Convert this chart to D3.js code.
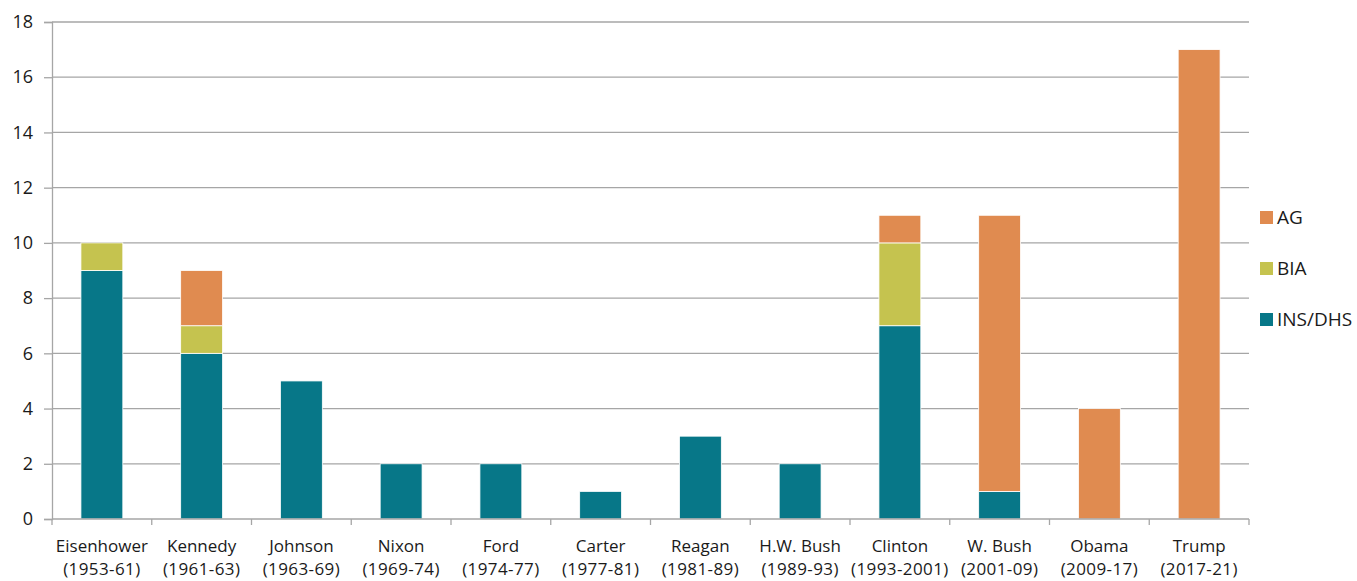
<!DOCTYPE html>
<html>
<head>
<meta charset="utf-8">
<script src="https://cdn.jsdelivr.net/npm/d3@7"></script>
<style>
  body { margin: 0; background: #fff; }
  text { font-family: "Open Sans", "Noto Sans", sans-serif; fill: #1a1a1a; }
</style>
</head>
<body>
<svg width="1357" height="581"></svg>
<script>
var presidents = ["Eisenhower", "Kennedy", "Johnson", "Nixon", "Ford", "Carter", "Reagan", "H.W. Bush", "Clinton", "W. Bush", "Obama", "Trump"];
var terms = ["(1953-61)", "(1961-63)", "(1963-69)", "(1969-74)", "(1974-77)", "(1977-81)", "(1981-89)", "(1989-93)", "(1993-2001)", "(2001-09)", "(2009-17)", "(2017-21)"];
var insDhs = [9, 6, 5, 2, 2, 1, 3, 2, 7, 1, 0, 0];
var bia = [1, 1, 0, 0, 0, 0, 0, 0, 3, 0, 0, 0];
var ag = [0, 2, 0, 0, 0, 0, 0, 0, 1, 10, 4, 17];
var yTicks = [0, 2, 4, 6, 8, 10, 12, 14, 16, 18];

var seriesNames = ["INS/DHS", "BIA", "AG"];
var colors = { "INS/DHS": "#077788", "BIA": "#c5c34f", "AG": "#e08b50" };

var svg = d3.select("svg");
var plotLeft = 52, plotRight = 1249, plotTop = 22, plotBottom = 519;

var rows = presidents.map(function(p, i) {
  return { name: p, "INS/DHS": insDhs[i], "BIA": bia[i], "AG": ag[i] };
});

var x = d3.scaleBand().domain(presidents).range([plotLeft, plotRight]).paddingInner(0.58).paddingOuter(0.29);
var y = d3.scaleLinear().domain([0, 18]).range([plotBottom, plotTop]);

// gridlines
svg.append("g").selectAll("line").data(yTicks.filter(function(d) { return d > 0; }))
  .enter().append("line")
  .attr("x1", plotLeft).attr("x2", plotRight)
  .attr("y1", function(d) { return y(d); }).attr("y2", function(d) { return y(d); })
  .attr("stroke", "#a6a6a6").attr("stroke-width", 1.3);

var stack = d3.stack().keys(seriesNames)(rows);

svg.append("g").selectAll("g").data(stack)
  .enter().append("g")
  .attr("fill", function(d) { return colors[d.key]; })
  .selectAll("rect").data(function(d) { return d.filter(function(s) { return s[1] > s[0]; }); })
  .enter().append("rect")
  .attr("x", function(d) { return x(d.data.name); })
  .attr("width", x.bandwidth())
  .attr("y", function(d) { return y(d[1]); })
  .attr("height", function(d) { return y(d[0]) - y(d[1]); })
  .attr("stroke", "#fff").attr("stroke-width", 0.8);

// y axis
var yAxis = svg.append("g").attr("transform", "translate(" + plotLeft + ",0)")
  .call(d3.axisLeft(y).tickValues(yTicks).tickSize(8).tickPadding(11));
yAxis.select(".domain").attr("stroke", "#a6a6a6").attr("stroke-width", 1.3);
yAxis.selectAll(".tick line").attr("stroke", "#a6a6a6").attr("stroke-width", 1.3);
yAxis.selectAll("text").style("font-size", "18px").attr("fill", "#1a1a1a");

// x axis
var xg = svg.append("g");
xg.append("line").attr("x1", plotLeft).attr("x2", plotRight).attr("y1", plotBottom).attr("y2", plotBottom)
  .attr("stroke", "#a6a6a6").attr("stroke-width", 1.3);
xg.selectAll(".xt").data(d3.range(presidents.length + 1))
  .enter().append("line")
  .attr("x1", function(i) { return plotLeft + i * x.step(); })
  .attr("x2", function(i) { return plotLeft + i * x.step(); })
  .attr("y1", plotBottom).attr("y2", plotBottom + 6)
  .attr("stroke", "#a6a6a6").attr("stroke-width", 1.3);

var lab = xg.selectAll(".xl").data(presidents)
  .enter().append("text")
  .attr("text-anchor", "middle")
  .style("font-size", "17px");
lab.append("tspan").attr("x", function(d) { return x(d) + x.bandwidth() / 2; }).attr("y", 552).text(function(d) { return d; });
lab.append("tspan").attr("x", function(d) { return x(d) + x.bandwidth() / 2; }).attr("y", 575)
  .style("letter-spacing", "0.4px").text(function(d, i) { return terms[i]; });

// legend
var legendOrder = ["AG", "BIA", "INS/DHS"];
var lg = svg.append("g").selectAll("g").data(legendOrder)
  .enter().append("g")
  .attr("transform", function(d, i) { return "translate(1260," + (217 + i * 51) + ")"; });
lg.append("rect").attr("x", 0).attr("y", -6).attr("width", 13).attr("height", 13)
  .attr("fill", function(d) { return colors[d]; });
lg.append("text").attr("x", 17).attr("y", 7).style("font-size", "19px").text(function(d) { return d; });
</script>
</body>
</html>
